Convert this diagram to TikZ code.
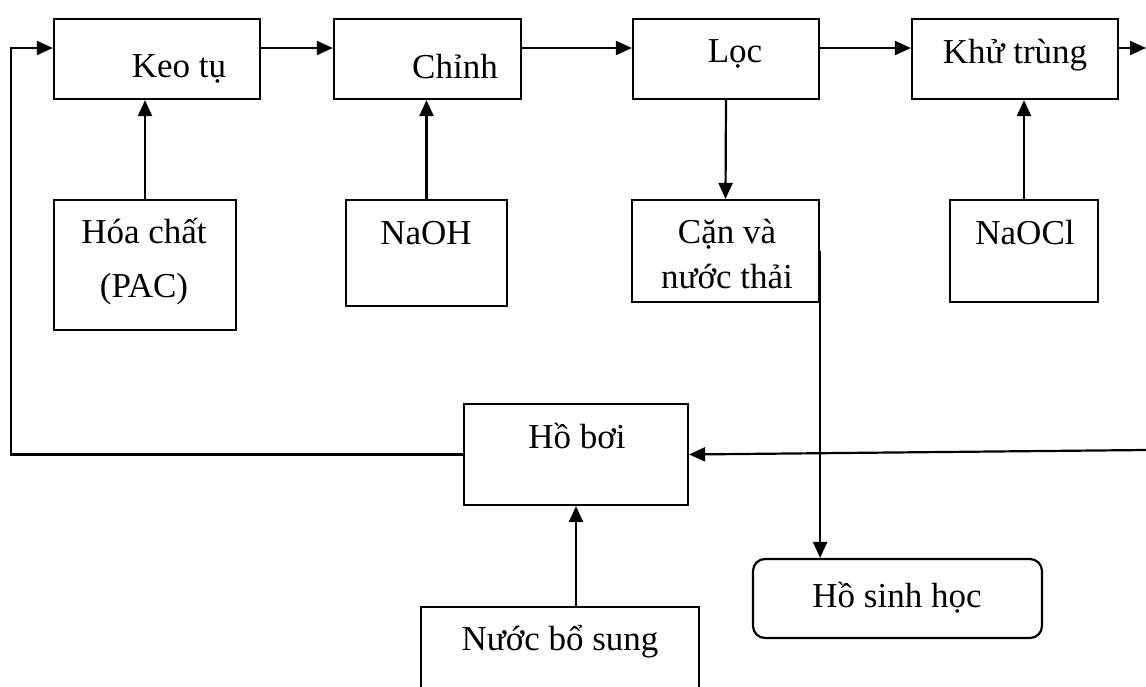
\documentclass[tikz,border=0pt]{standalone}
\usepackage{fontspec}
\setmainfont{Liberation Serif}
\usetikzlibrary{arrows.meta}
\begin{document}
\begin{tikzpicture}[x=1pt,y=-1pt,
  box/.style={draw,line width=2.2pt,inner sep=0pt,minimum width=#1},
  hidden/.style={inner sep=0pt,minimum width=#1},
  lbl/.style={anchor=base,inner sep=0pt,font=\fontsize{35}{42}\selectfont},
  arr/.style={line width=2.2pt,-{Triangle[length=16pt,width=14pt]}},
  ln/.style={line width=2.2pt}]
\useasboundingbox (0,0) rectangle (1146,686);
% boxes
\node[box=206pt,minimum height=80pt] (keo) at (157,59) {};
\node[box=187pt,minimum height=80pt] (chinh) at (427.5,59) {};
\node[box=186pt,minimum height=80pt] (loc) at (726,59) {};
\node[box=206pt,minimum height=80pt] (khu) at (1015,59) {};
\node[box=182pt,minimum height=130pt] (hoa) at (145,265) {};
\node[box=161pt,minimum height=106pt] (naoh) at (426.5,253) {};
\node[box=187pt,minimum height=102pt] (can) at (725.5,251) {};
\node[box=148pt,minimum height=102pt] (naocl) at (1024,251) {};
\node[box=224pt,minimum height=101pt] (hoboi) at (576,454.5) {};
\node[box=289pt,minimum height=79pt,rounded corners=12pt] (hsh) at (897.5,598.5) {};
\node[hidden=278pt,minimum height=86pt] (nbs) at (560,650) {};
\draw[ln] (nbs.south west) -- (nbs.north west) -- (nbs.north east) -- (nbs.south east);
% texts
\node[lbl] (tkeo) at (179,77) {Keo tụ};
\node[lbl] (tchinh) at (455,78) {Chỉnh};
\node[lbl] (tloc) at (735,62) {Lọc};
\node[lbl] (tkhu) at (1015,63) {Khử trùng};
\node[lbl] (thoa1) at (144,243) {Hóa chất};
\node[lbl] (thoa2) at (144,297) {(PAC)};
\node[lbl] (tnaoh) at (426,244) {NaOH};
\node[lbl] (tcan1) at (727,243) {Cặn và};
\node[lbl] (tcan2) at (727,288) {nước thải};
\node[lbl] (tnaocl) at (1025,244) {NaOCl};
\node[lbl] (thoboi) at (577,448) {Hồ bơi};
\node[lbl] (thsh) at (897,607) {Hồ sinh học};
\node[lbl] (tnbs) at (560,650) {Nước bổ sung};
% coordinates
\coordinate (r) at (0,48);
\coordinate (out) at (1146,48);
\coordinate (fb) at (11,454.5);
\coordinate (ret) at (1146,450);
% connectors
\draw[arr] (keo.east |- r) -- (chinh.west |- r);
\draw[arr] (chinh.east |- r) -- (loc.west |- r);
\draw[arr] (loc.east |- r) -- (khu.west |- r);
\draw[arr] (khu.east |- r) -- (out);
\draw[arr] (hoboi.west) -- (fb) |- (keo.west |- r);
\draw[arr] (ret) -- (hoboi.east);
\draw[arr] (hoa.north) -- (hoa.north |- keo.south);
\draw[arr] (naoh.north) -- (naoh.north |- chinh.south);
\draw[arr] (loc.south) -- (can.north);
\draw[arr] (naocl.north) -- (naocl.north |- khu.south);
\draw[arr] (can.east) -- (can.east |- hsh.north);
\draw[arr] (nbs.north -| hoboi.south) -- (hoboi.south);
\end{tikzpicture}
\end{document}
